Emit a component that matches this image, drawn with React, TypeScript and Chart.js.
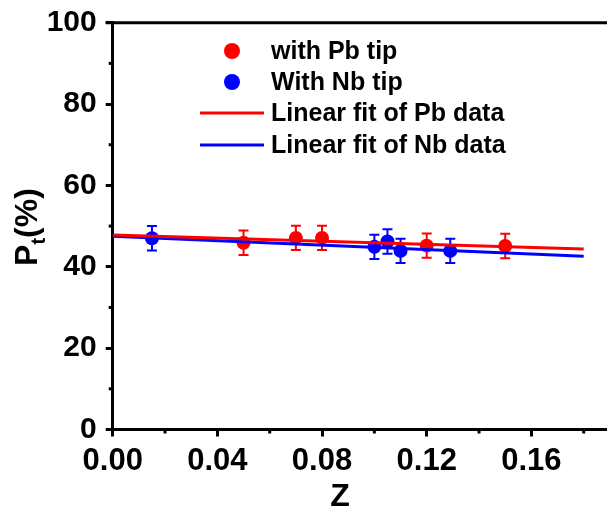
import React, { useEffect, useRef } from "react";
import { Chart, registerables } from "chart.js";

Chart.register(...registerables);

// ---- data ----
const pbZ = [0.05, 0.07, 0.08, 0.12, 0.15];
const pbP = [45.9, 47.1, 47.1, 45.2, 45.1];
const pbErr = [3, 3, 3, 3, 3];

const nbZ = [0.015, 0.1, 0.105, 0.11, 0.129];
const nbP = [47.0, 44.9, 46.2, 43.9, 43.9];
const nbErr = [3, 3, 3, 3, 3];

const pbFitZ = [0, 0.18];
const pbFitP = [47.8, 44.4];
const nbFitZ = [0, 0.18];
const nbFitP = [47.5, 42.6];

const xTicks = [0, 0.04, 0.08, 0.12, 0.16];
const xMinor = [0.02, 0.06, 0.1, 0.14, 0.18];
const yTicks = [0, 20, 40, 60, 80, 100];
const yMinor = [10, 30, 50, 70, 90];

const legendLabels = ["with Pb tip", "With Nb tip", "Linear fit of Pb data", "Linear fit of Nb data"];

const FONT = "'Liberation Sans', Arial, sans-serif";
const RED = "#ff0000";
const BLUE = "#0000ff";

const toXY = (xs: number[], ys: number[]) => xs.map((x, i) => ({ x, y: ys[i] }));

const errorBarPlugin = {
  id: "errorBars",
  beforeDatasetsDraw(chart: any) {
    const ctx = chart.ctx;
    const xs = chart.scales.x;
    const ys = chart.scales.y;
    const sets = [
      { z: pbZ, p: pbP, e: pbErr, c: RED },
      { z: nbZ, p: nbP, e: nbErr, c: BLUE },
    ];
    ctx.save();
    sets.forEach((s) => {
      ctx.strokeStyle = s.c;
      ctx.lineWidth = 2;
      s.z.forEach((z, i) => {
        const px = xs.getPixelForValue(z);
        const top = ys.getPixelForValue(s.p[i] + s.e[i]);
        const bot = ys.getPixelForValue(s.p[i] - s.e[i]);
        ctx.beginPath();
        ctx.moveTo(px, top);
        ctx.lineTo(px, bot);
        ctx.moveTo(px - 5, top);
        ctx.lineTo(px + 5, top);
        ctx.moveTo(px - 5, bot);
        ctx.lineTo(px + 5, bot);
        ctx.stroke();
      });
    });
    ctx.restore();
  },
};

const decorPlugin = {
  id: "decor",
  afterDraw(chart: any) {
    const ctx = chart.ctx;
    const xs = chart.scales.x;
    const ys = chart.scales.y;
    const area = chart.chartArea;
    ctx.save();
    ctx.strokeStyle = "#000";
    ctx.lineWidth = 3;
    // top border
    ctx.beginPath();
    ctx.moveTo(area.left - 7, area.top);
    ctx.lineTo(chart.width, area.top);
    ctx.stroke();
    // minor ticks
    ctx.lineWidth = 3;
    xMinor.forEach((v) => {
      const px = xs.getPixelForValue(v);
      ctx.beginPath();
      ctx.moveTo(px, area.bottom);
      ctx.lineTo(px, area.bottom + 4);
      ctx.stroke();
    });
    yMinor.forEach((v) => {
      const py = ys.getPixelForValue(v);
      ctx.beginPath();
      ctx.moveTo(area.left, py);
      ctx.lineTo(area.left - 4, py);
      ctx.stroke();
    });
    // axis titles
    ctx.fillStyle = "#000";
    ctx.font = `bold 32px ${FONT}`;
    ctx.textAlign = "center";
    ctx.textBaseline = "alphabetic";
    ctx.fillText("Z", 340, 506);
    // y title rotated
    ctx.save();
    ctx.translate(37, 227);
    ctx.rotate(-Math.PI / 2);
    ctx.textAlign = "left";
    const big = `bold 32px ${FONT}`;
    const small = `bold 20px ${FONT}`;
    ctx.font = big;
    const wP = ctx.measureText("P").width;
    ctx.font = small;
    const wt = ctx.measureText("t").width;
    ctx.font = big;
    const wR = ctx.measureText("(%)").width;
    const total = wP + wt + wR;
    let x0 = -total / 2;
    ctx.fillText("P", x0, 0);
    x0 += wP;
    ctx.font = small;
    ctx.fillText("t", x0, 8);
    x0 += wt;
    ctx.font = big;
    ctx.fillText("(%)", x0, 0);
    ctx.restore();

    // legend
    const rows = [51, 82, 113, 145];
    ctx.font = `bold 25px ${FONT}`;
    ctx.textAlign = "left";
    ctx.textBaseline = "middle";
    const colors = [RED, BLUE, RED, BLUE];
    rows.forEach((y, i) => {
      ctx.fillStyle = colors[i];
      ctx.strokeStyle = colors[i];
      if (i < 2) {
        ctx.beginPath();
        ctx.arc(232, y, 8, 0, Math.PI * 2);
        ctx.fill();
      } else {
        ctx.lineWidth = 3;
        ctx.beginPath();
        ctx.moveTo(200, y);
        ctx.lineTo(264, y);
        ctx.stroke();
      }
      ctx.fillStyle = "#000";
      ctx.fillText(legendLabels[i], 271, y + 1);
    });
    ctx.restore();
  },
};

const zeroPad = (s: any) => {
  s.paddingTop = 0;
  s.paddingBottom = 0;
  s.paddingLeft = 0;
  s.paddingRight = 0;
};

export default function App() {
  const ref = useRef<HTMLCanvasElement | null>(null);
  useEffect(() => {
    if (!ref.current) return;
    const chart = new Chart(ref.current, {
      type: "scatter",
      data: {
        datasets: [
          {
            label: legendLabels[2],
            data: toXY(pbFitZ, pbFitP),
            showLine: true,
            borderColor: RED,
            borderWidth: 3,
            pointRadius: 0,
          },
          {
            label: legendLabels[3],
            data: toXY(nbFitZ, nbFitP),
            showLine: true,
            borderColor: BLUE,
            borderWidth: 3,
            pointRadius: 0,
          },
          {
            label: legendLabels[0],
            data: toXY(pbZ, pbP),
            backgroundColor: RED,
            borderColor: RED,
            pointRadius: 7,
            borderWidth: 0,
          },
          {
            label: legendLabels[1],
            data: toXY(nbZ, nbP),
            backgroundColor: BLUE,
            borderColor: BLUE,
            pointRadius: 7,
            borderWidth: 0,
          },
        ],
      },
      options: {
        responsive: false,
        animation: false,
        layout: { autoPadding: false, padding: { top: 22.7, right: 0, left: 0, bottom: 0 } },
        plugins: { legend: { display: false }, tooltip: { enabled: false } },
        scales: {
          x: {
            type: "linear",
            min: 0,
            max: 0.1889,
            afterBuildTicks: (s: any) => {
              s.ticks = xTicks.map((v) => ({ value: v }));
            },
            afterFit: (s: any) => {
              s.height = 78.5;
              zeroPad(s);
            },
            grid: { drawOnChartArea: false, drawTicks: true, tickLength: 7, tickWidth: 3, tickColor: "#000" },
            border: { display: true, width: 3, color: "#000" },
            ticks: {
              color: "#000",
              font: { family: FONT, size: 31, weight: "bold" },
              padding: 6,
              maxRotation: 0,
              autoSkip: false,
              callback: (v: any) => Number(v).toFixed(2),
            },
          },
          y: {
            type: "linear",
            min: 0,
            max: 100,
            afterBuildTicks: (s: any) => {
              s.ticks = yTicks.map((v) => ({ value: v }));
            },
            afterFit: (s: any) => {
              s.width = 112.7;
              zeroPad(s);
            },
            grid: { drawOnChartArea: false, drawTicks: true, tickLength: 7, tickWidth: 3, tickColor: "#000" },
            border: { display: true, width: 3, color: "#000" },
            ticks: {
              color: "#000",
              font: { family: FONT, size: 30, weight: "bold" },
              padding: 9,
              autoSkip: false,
            },
          },
        },
      },
      plugins: [errorBarPlugin, decorPlugin],
    } as any);
    return () => chart.destroy();
  }, []);
  return (
    <div style={{ position: "fixed", left: 0, top: 0, width: 607, height: 508, background: "#fff" }}>
      <canvas ref={ref} width={607} height={508} style={{ display: "block" }} />
    </div>
  );
}
